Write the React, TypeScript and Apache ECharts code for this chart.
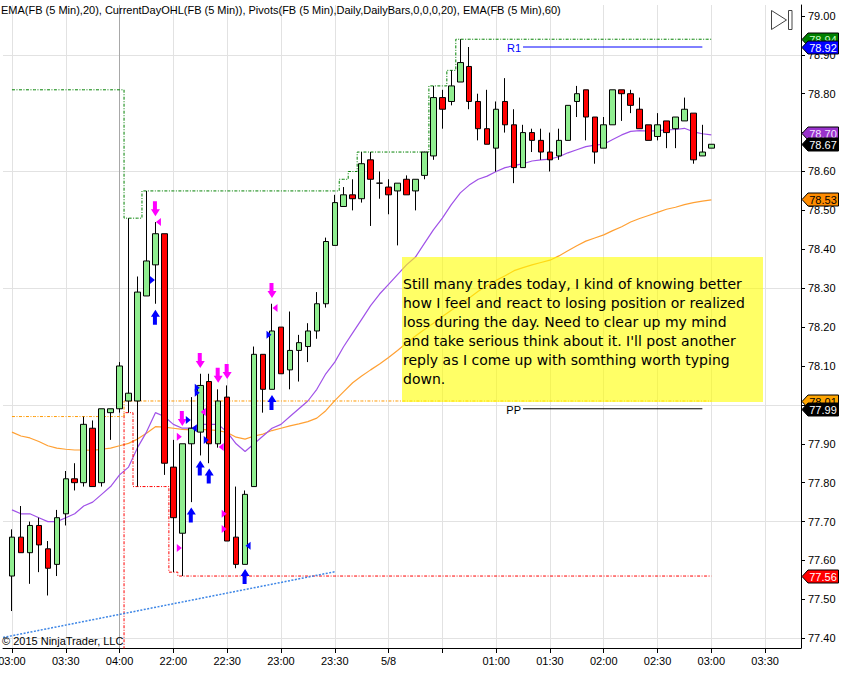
import React, { useEffect, useRef } from "react";
import * as echarts from "echarts";

// ---------- data ----------
// 5-minute bars, index 0 = 03:00
const opens = [
  77.56, 77.66, 77.62, 77.69, 77.63, 77.59, 77.72, 77.81, 77.80, 77.94,
  77.80, 77.98, 77.99, 78.01, 78.01, 78.28, 78.36, 78.44, 77.84, 77.67,
  77.90, 77.93, 78.06, 77.90, 78.02, 77.66, 77.59, 77.79, 78.13, 78.04,
  78.20, 78.09, 78.14, 78.15, 78.19, 78.26, 78.41, 78.51, 78.54, 78.53,
  78.63, 78.57, 78.56, 78.55, 78.58, 78.55, 78.59, 78.64, 78.79, 78.78,
  78.83, 78.87, 78.78, 78.71, 78.66, 78.78, 78.72, 78.61, 78.70, 78.68,
  78.65, 78.64, 78.68, 78.78, 78.81, 78.74, 78.66, 78.72, 78.81, 78.80,
  78.76, 78.72, 78.69, 78.73, 78.71, 78.73, 78.75, 78.64, 78.66,
];
const closes = [
  77.66, 77.62, 77.69, 77.64, 77.58, 77.71, 77.81, 77.80, 77.95, 77.79,
  77.99, 77.99, 78.10, 78.03, 78.29, 78.37, 78.44, 77.85, 77.71, 77.90,
  77.94, 78.05, 77.90, 78.01, 77.65, 77.59, 77.77, 78.13, 78.04, 78.19,
  78.08, 78.14, 78.16, 78.19, 78.26, 78.42, 78.52, 78.54, 78.53, 78.62,
  78.58, 78.57, 78.54, 78.57, 78.54, 78.58, 78.65, 78.79, 78.76, 78.82,
  78.88, 78.78, 78.71, 78.67, 78.76, 78.72, 78.61, 78.70, 78.68, 78.65,
  78.63, 78.68, 78.77, 78.80, 78.74, 78.65, 78.72, 78.81, 78.80, 78.77,
  78.71, 78.68, 78.72, 78.70, 78.74, 78.76, 78.63, 78.65, 78.67,
];
const highs = [
  77.68, 77.74, 77.70, 77.71, 77.65, 77.73, 77.83, 77.85, 77.97, 77.96,
  77.99, 77.99, 78.11, 78.48, 78.33, 78.55, 78.47, 78.44, 77.91, 77.90,
  78.02, 78.08, 78.08, 78.04, 78.05, 77.79, 77.78, 78.15, 78.13, 78.26,
  78.20, 78.24, 78.18, 78.21, 78.29, 78.43, 78.54, 78.56, 78.58, 78.65,
  78.65, 78.60, 78.58, 78.57, 78.59, 78.58, 78.65, 78.82, 78.81, 78.86,
  78.94, 78.92, 78.80, 78.81, 78.78, 78.84, 78.76, 78.72, 78.71, 78.71,
  78.70, 78.71, 78.77, 78.82, 78.81, 78.74, 78.74, 78.81, 78.81, 78.81,
  78.79, 78.72, 78.75, 78.73, 78.74, 78.79, 78.75, 78.72, 78.67,
];
const lows = [
  77.47, 77.62, 77.54, 77.57, 77.51, 77.56, 77.69, 77.78, 77.79, 77.79,
  77.79, 77.91, 77.98, 77.98, 77.79, 78.28, 78.26, 77.82, 77.57, 77.56,
  77.75, 77.87, 77.85, 77.89, 77.65, 77.58, 77.59, 77.79, 77.98, 78.04,
  78.08, 78.04, 78.06, 78.11, 78.17, 78.25, 78.41, 78.51, 78.50, 78.52,
  78.46, 78.53, 78.49, 78.41, 78.54, 78.50, 78.58, 78.63, 78.71, 78.77,
  78.83, 78.76, 78.68, 78.67, 78.60, 78.70, 78.57, 78.61, 78.65, 78.63,
  78.60, 78.63, 78.68, 78.74, 78.68, 78.62, 78.66, 78.72, 78.73, 78.75,
  78.71, 78.68, 78.68, 78.66, 78.66, 78.73, 78.62, 78.64, 78.66,
];
const ema20 = [
  77.73, 77.72, 77.72, 77.71, 77.70, 77.70, 77.71, 77.72, 77.74, 77.75,
  77.77, 77.79, 77.82, 77.84, 77.89, 77.93, 77.98, 77.97, 77.95, 77.94,
  77.94, 77.95, 77.95, 77.95, 77.93, 77.90, 77.88, 77.90, 77.92, 77.94,
  77.95, 77.97, 77.99, 78.01, 78.04, 78.08, 78.11, 78.15, 78.185, 78.22,
  78.255, 78.285, 78.31, 78.335, 78.36, 78.38, 78.415, 78.45, 78.48, 78.515,
  78.545, 78.565, 78.58, 78.588, 78.60, 78.61, 78.615, 78.62, 78.627, 78.63,
  78.632, 78.638, 78.648, 78.656, 78.664, 78.668, 78.67, 78.682, 78.694, 78.703,
  78.705, 78.704, 78.705, 78.707, 78.708, 78.711, 78.702, 78.697, 78.694,
];
const ema60 = [
  77.93, 77.92, 77.915, 77.906, 77.895, 77.889, 77.886, 77.884, 77.884, 77.883,
  77.886, 77.889, 77.895, 77.901, 77.912, 77.927, 77.944, 77.943, 77.94, 77.937,
  77.936, 77.937, 77.936, 77.934, 77.929, 77.917, 77.912, 77.92, 77.925, 77.934,
  77.94, 77.946, 77.951, 77.957, 77.966, 77.985, 78.011, 78.034, 78.057, 78.074,
  78.09, 78.105, 78.122, 78.14, 78.159, 78.177, 78.194, 78.21, 78.227, 78.243,
  78.259, 78.275, 78.292, 78.307, 78.32, 78.332, 78.345, 78.353, 78.36, 78.366,
  78.372, 78.383, 78.396, 78.409, 78.421, 78.429, 78.437, 78.448, 78.458, 78.47,
  78.479, 78.487, 78.495, 78.503, 78.508, 78.515, 78.52, 78.524, 78.527,
];
// CurrentDayOHL step values per bar
const dayHigh = [
  78.81, 78.81, 78.81, 78.81, 78.81, 78.81, 78.81, 78.81, 78.81, 78.81,
  78.81, 78.81, 78.81, 78.48, 78.48, 78.55, 78.55, 78.55, 78.55, 78.55,
  78.55, 78.55, 78.55, 78.55, 78.55, 78.55, 78.55, 78.55, 78.55, 78.55,
  78.55, 78.55, 78.55, 78.55, 78.55, 78.55, 78.55, 78.58, 78.60, 78.65,
  78.65, 78.65, 78.65, 78.65, 78.65, 78.65, 78.65, 78.82, 78.82, 78.86,
  78.94, 78.94, 78.94, 78.94, 78.94, 78.94, 78.94, 78.94, 78.94, 78.94,
  78.94, 78.94, 78.94, 78.94, 78.94, 78.94, 78.94, 78.94, 78.94, 78.94,
  78.94, 78.94, 78.94, 78.94, 78.94, 78.94, 78.94, 78.94, 78.94,
];
const dayLow = [
  77.30, 77.30, 77.30, 77.30, 77.30, 77.30, 77.30, 77.30, 77.30, 77.30,
  77.30, 77.30, 77.30, 77.98, 77.79, 77.79, 77.79, 77.79, 77.57, 77.56,
  77.56, 77.56, 77.56, 77.56, 77.56, 77.56, 77.56, 77.56, 77.56, 77.56,
  77.56, 77.56, 77.56, 77.56, 77.56, 77.56, 77.56, 77.56, 77.56, 77.56,
  77.56, 77.56, 77.56, 77.56, 77.56, 77.56, 77.56, 77.56, 77.56, 77.56,
  77.56, 77.56, 77.56, 77.56, 77.56, 77.56, 77.56, 77.56, 77.56, 77.56,
  77.56, 77.56, 77.56, 77.56, 77.56, 77.56, 77.56, 77.56, 77.56, 77.56,
  77.56, 77.56, 77.56, 77.56, 77.56, 77.56, 77.56, 77.56, 77.56,
];
const dayOpen = [
  77.97, 77.97, 77.97, 77.97, 77.97, 77.97, 77.97, 77.97, 77.97, 77.97,
  77.97, 77.97, 77.97, 78.01, 78.01, 78.01, 78.01, 78.01, 78.01, 78.01,
  78.01, 78.01, 78.01, 78.01, 78.01, 78.01, 78.01, 78.01, 78.01, 78.01,
  78.01, 78.01, 78.01, 78.01, 78.01, 78.01, 78.01, 78.01, 78.01, 78.01,
  78.01, 78.01, 78.01, 78.01, 78.01, 78.01, 78.01, 78.01, 78.01, 78.01,
  78.01, 78.01, 78.01, 78.01, 78.01, 78.01, 78.01, 78.01, 78.01, 78.01,
  78.01, 78.01, 78.01, 78.01, 78.01, 78.01, 78.01, 78.01, 78.01, 78.01,
  78.01, 78.01, 78.01, 78.01, 78.01, 78.01, 78.01, 78.01, 78.01,
];
// x-axis ticks (bar index -> label)
const timeTicks: [number, string][] = [
  [0, "03:00"], [6, "03:30"], [12, "04:00"], [18, "22:00"], [24, "22:30"],
  [30, "23:00"], [36, "23:30"], [42, "5/8"], [48, ""], [54, "01:00"],
  [60, "01:30"], [66, "02:00"], [72, "02:30"], [78, "03:00"], [84, "03:30"],
];
const gridPrices = [77.4, 77.7, 78.0, 78.3, 78.6, 78.9];
const sessionBreakBar = 12;
const pivotPP = 77.99;
const pivotR1 = 78.92;
const pivotBars = [57, 77];
const trendLine: [number, number][] = [[-1, 77.402], [36, 77.571]];
// trade markers [bar, price]
const downArrows: [number, number][] = [[16, 78.504], [19, 77.965], [21, 78.114], [23, 78.076], [24, 78.086], [29, 78.294]];
const upArrows: [number, number][] = [[16, 78.225], [20, 77.717], [21, 77.838], [22, 77.817], [26, 77.559], [29, 78.006]];
const magentaRight: [number, number][] = [[19, 77.918], [19, 77.632], [24, 77.72], [24, 77.681]];
const magentaLeft: [number, number][] = [[16, 78.47], [21, 77.982], [23, 77.892], [29, 78.249]];
const blueRight: [number, number][] = [[16, 78.321], [20, 77.961], [21, 78.044], [21, 78.031], [22, 77.91], [29, 78.18]];
const blueLeft: [number, number][] = [[20, 77.94], [26, 77.638]];
// right-axis price markers
const priceTags = [
  { value: 78.94, bg: "#008000", fg: "#c8ffc8" },
  { value: 78.92, bg: "#0000ff", fg: "#ffffff" },
  { value: 78.70, bg: "#9932cc", fg: "#f4e8ff" },
  { value: 78.67, bg: "#000000", fg: "#ffffff" },
  { value: 78.53, bg: "#ff8c00", fg: "#000000" },
  { value: 78.01, bg: "#ffa500", fg: "#000000" },
  { value: 77.99, bg: "#000000", fg: "#ffffff" },
  { value: 77.56, bg: "#ff0000", fg: "#ffffff" },
];
const headerText =
  "EMA(FB (5 Min),20), CurrentDayOHL(FB (5 Min)), Pivots(FB (5 Min),Daily,DailyBars,0,0,0,20), EMA(FB (5 Min),60)";
const noteLines = [
  "Still many trades today, I kind of knowing better",
  "how I feel and react to losing position or realized",
  "loss during the day. Need to clear up my mind",
  "and take serious think about it. I'll post another",
  "reply as I come up with somthing worth typing",
  "down.",
];

const SLOTS = 90;
const OFF = 1; // bar index -> category slot

const FONT = '"Liberation Sans", Arial, sans-serif';

export default function App() {
  const ref = useRef<HTMLDivElement>(null);

  useEffect(() => {
    const el = ref.current!;
    const chart = echarts.init(el, undefined, { renderer: "svg" });

    const cats: string[] = [];
    for (let k = 0; k < SLOTS; k++) cats.push(String(k));
    const tickSlots = new Set(timeTicks.map((t) => t[0] + OFF));
    const labelMap: Record<string, string> = {};
    timeTicks.forEach((t) => (labelMap[String(t[0] + OFF)] = t[1]));

    const toXY = (arr: number[]) => arr.map((v, i) => [i + OFF, v]);
    const pts = (arr: [number, number][]) => arr.map((p) => [p[0] + OFF, p[1]]);

    const markerSeries = (
      data: [number, number][],
      symbol: string,
      size: number[],
      color: string,
      offset: number[]
    ) => ({
      type: "scatter",
      data: pts(data),
      symbol,
      symbolSize: size,
      symbolOffset: offset,
      itemStyle: { color, opacity: 1 },
      silent: true,
      z: 6,
    });

    const option: any = {
      animation: false,
      backgroundColor: "#ffffff",
      textStyle: { fontFamily: FONT },
      grid: { left: 3, right: 47, top: 5, bottom: 26, containLabel: false, outerBoundsMode: "none" },
      xAxis: {
        type: "category",
        data: cats,
        boundaryGap: false,
        axisLine: { show: true, lineStyle: { color: "#000", width: 1 } },
        axisTick: {
          show: true,
          interval: (i: number) => tickSlots.has(i),
          length: 5,
          lineStyle: { color: "#000" },
        },
        axisLabel: {
          interval: (i: number) => tickSlots.has(i),
          formatter: (v: string) => labelMap[v] ?? "",
          color: "#000",
          fontSize: 11,
          fontFamily: FONT,
          margin: 7,
        },
        splitLine: {
          show: true,
          interval: (i: number) => tickSlots.has(i),
          lineStyle: { color: "#e2e2e2", width: 1 },
        },
      },
      yAxis: {
        type: "value",
        position: "right",
        min: 77.375,
        max: 79.028,
        splitNumber: 16,
        axisLine: { show: true, lineStyle: { color: "#000", width: 1 } },
        axisTick: { show: true, length: 4, lineStyle: { color: "#000" } },
        axisLabel: {
          color: "#000",
          fontSize: 11,
          fontFamily: FONT,
          margin: 7,
          showMinLabel: false,
          showMaxLabel: false,
          formatter: (v: number) =>
            Math.abs(v * 10 - Math.round(v * 10)) < 1e-6 ? v.toFixed(2) : "",
        },
        splitLine: { show: false },
      },
      series: [
        {
          type: "candlestick",
          data: opens.map((o, i) => [i + OFF, o, closes[i], lows[i], highs[i]]),
          encode: { x: 0, y: [1, 2, 3, 4] },
          barWidth: 6,
          z: 4,
          itemStyle: {
            color: "#90ee90",
            color0: "#ff0000",
            borderColor: "#000000",
            borderColor0: "#000000",
            borderWidth: 1,
          },
          markLine: {
            silent: true,
            symbol: "none",
            z: 1,
            label: { show: false },
            lineStyle: { color: "#e2e2e2", type: "solid", width: 1 },
            data: [
              ...gridPrices.map((p) => ({ yAxis: p })),
              {
                xAxis: String(sessionBreakBar + OFF),
                lineStyle: { color: "#a8a8a8", type: "solid", width: 1 },
              },
            ],
          },
        },
        {
          type: "line",
          data: toXY(ema60),
          showSymbol: false,
          symbol: "none",
          lineStyle: { color: "#ffa033", width: 1.2 },
          z: 3,
          silent: true,
        },
        {
          type: "line",
          data: toXY(ema20),
          showSymbol: false,
          symbol: "none",
          lineStyle: { color: "#a052e8", width: 1.2 },
          z: 3,
          silent: true,
        },
        {
          type: "line",
          data: toXY(dayHigh),
          step: "middle",
          showSymbol: false,
          symbol: "none",
          lineStyle: { color: "#008000", width: 1, type: [3, 1.5, 1, 1.5] },
          z: 3,
          silent: true,
        },
        {
          type: "line",
          data: toXY(dayLow),
          step: "middle",
          showSymbol: false,
          symbol: "none",
          lineStyle: { color: "#ff0000", width: 1, type: [3, 1.5, 1, 1.5] },
          z: 3,
          silent: true,
        },
        {
          type: "line",
          data: toXY(dayOpen),
          step: "middle",
          showSymbol: false,
          symbol: "none",
          lineStyle: { color: "#ff9900", width: 1, type: [3, 1.5, 1, 1.5] },
          z: 3,
          silent: true,
        },
        {
          type: "line",
          data: pivotBars.map((b) => [b + OFF, pivotR1]),
          showSymbol: false,
          symbol: "none",
          lineStyle: { color: "#0000ff", width: 1 },
          z: 3,
          silent: true,
        },
        {
          type: "line",
          data: pivotBars.map((b) => [b + OFF, pivotPP]),
          showSymbol: false,
          symbol: "none",
          lineStyle: { color: "#000000", width: 1 },
          z: 3,
          silent: true,
        },
        {
          type: "line",
          data: pts(trendLine),
          showSymbol: false,
          symbol: "none",
          lineStyle: { color: "#3d86e6", width: 1.5, type: [2, 1.5] },
          z: 3,
          silent: true,
        },
        markerSeries(downArrows, "path://M2,0 L6,0 L6,8 L9,8 L4.5,15 L0,8 L2,8 Z", [9, 15], "#ff00ff", [0, 0]),
        markerSeries(upArrows, "path://M4.5,0 L9,7 L6,7 L6,15 L2,15 L2,7 L0,7 Z", [9, 15], "#0000ff", [0, 0]),
        markerSeries(magentaRight, "path://M0,0 L6,4 L0,8 Z", [5, 8], "#ff00ff", [-3, 0]),
        markerSeries(magentaLeft, "path://M6,0 L0,4 L6,8 Z", [5, 8], "#ff00ff", [3, 0]),
        markerSeries(blueRight, "path://M0,0 L6,4 L0,8 Z", [5, 8], "#0000ff", [-3, 0]),
        markerSeries(blueLeft, "path://M6,0 L0,4 L6,8 Z", [5, 8], "#0000ff", [3, 0]),
      ],
    };

    chart.setOption(option);

    // ---- overlays positioned through the chart's own scales ----
    const yPix = (v: number) => chart.convertToPixel({ yAxisIndex: 0 }, v) as number;
    const xyPix = (b: number, v: number) =>
      chart.convertToPixel({ seriesIndex: 0 }, [b + OFF, v]) as number[];

    const els: any[] = [];
    // header
    els.push({
      type: "text",
      x: 1,
      y: 10,
      z: 200,
      style: { text: headerText, fill: "#000", font: `11px ${FONT}`, align: "left", verticalAlign: "middle" },
    });
    // copyright
    els.push({
      type: "text",
      x: 2,
      y: 641,
      z: 200,
      style: { text: "© 2015 NinjaTrader, LLC", fill: "#000", font: `11px ${FONT}`, align: "left", verticalAlign: "middle" },
    });
    // play-to-end icon
    els.push({
      type: "polygon",
      z: 200,
      shape: { points: [[771.5, 10.5], [786.5, 20], [771.5, 29.5]] },
      style: { fill: "#ffffff", stroke: "#444", lineWidth: 1 },
    });
    els.push({
      type: "rect",
      z: 200,
      shape: { x: 788.5, y: 10.5, width: 3.5, height: 19 },
      style: { fill: "#ffffff", stroke: "#444", lineWidth: 1 },
    });
    // pivot labels
    const r1 = xyPix(pivotBars[0], pivotR1);
    els.push({
      type: "text",
      x: r1[0] - 2,
      y: r1[1] + 1,
      z: 200,
      style: { text: "R1", fill: "#0000ff", font: `11px ${FONT}`, align: "right", verticalAlign: "middle" },
    });
    const pp = xyPix(pivotBars[0], pivotPP);
    els.push({
      type: "text",
      x: pp[0] - 2,
      y: pp[1] + 1.5,
      z: 200,
      style: { text: "PP", fill: "#000", font: `11px ${FONT}`, align: "right", verticalAlign: "middle" },
    });
    // note box
    els.push({
      type: "rect",
      z: 150,
      shape: { x: 402, y: 257, width: 361, height: 145 },
      style: { fill: "rgba(255,255,0,0.6)" },
    });
    els.push({
      type: "text",
      x: 403,
      y: 274,
      z: 151,
      style: {
        text: noteLines.join("\n"),
        fill: "#000",
        font: '14px "DejaVu Sans", Verdana, sans-serif',
        lineHeight: 19,
        align: "left",
        verticalAlign: "top",
      },
    });
    // price tags
    priceTags.forEach((t, j) => {
      const y = Math.round(yPix(t.value)) + 0.5;
      els.push({
        type: "polygon",
        z: 300 + 2 * j,
        shape: { points: [[802, y], [808, y - 6.5], [838.5, y - 6.5], [838.5, y + 6.5], [808, y + 6.5]] },
        style: { fill: t.bg, stroke: "#000", lineWidth: 1 },
      });
      els.push({
        type: "text",
        x: 823,
        y: y + 0.5,
        z: 301 + 2 * j,
        style: { text: t.value.toFixed(2), fill: t.fg, font: `11px ${FONT}`, align: "center", verticalAlign: "middle" },
      });
    });

    chart.setOption({ graphic: { elements: els } });

    return () => chart.dispose();
  }, []);

  return (
    <div
      ref={ref}
      style={{ position: "absolute", left: 0, top: 0, width: 848, height: 674, background: "#fff" }}
    />
  );
}
